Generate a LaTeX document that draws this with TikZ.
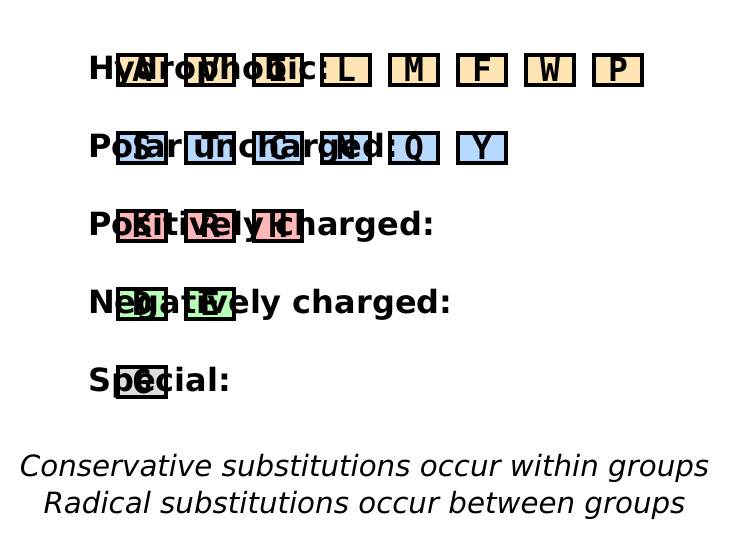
\documentclass[tikz,border=0pt]{standalone}
\usepackage{fontspec}
\setmainfont{DejaVu Sans}
\newfontfamily\monofont{DejaVu Sans Mono}
\definecolor{hydro}{RGB}{255,229,180}
\definecolor{polar}{RGB}{183,216,255}
\definecolor{posc}{RGB}{255,182,182}
\definecolor{negc}{RGB}{183,255,183}
\definecolor{spec}{RGB}{221,221,221}
\tikzset{
  aabox/.style={draw=black, line width=4pt, minimum width=48pt, minimum height=30pt, inner sep=0pt},
  aaletter/.style={font=\monofont\bfseries\fontsize{33}{33}\selectfont, inner sep=0pt, anchor=base},
  grouplabel/.style={font=\bfseries\fontsize{32}{32}\selectfont, inner sep=0pt, anchor=base west},
  note/.style={font=\itshape\fontsize{29.3}{29.3}\selectfont, inner sep=0pt, anchor=base}
}
\begin{document}
\begin{tikzpicture}[x=1pt,y=-1pt]
\useasboundingbox (0,0) rectangle (729,556);
% rows: baseline y
\def\rowA{79.5}\def\rowB{157.5}\def\rowC{235.5}\def\rowD{313.5}\def\rowE{391.5}
% boxes
\foreach \L [count=\i] in {A,V,I,L,M,F,W,P} {
  \node[aabox, fill=hydro] (h\i) at ({142+68*(\i-1)}, \rowA-9.5) {};
}
\foreach \L [count=\i] in {S,T,C,N,Q,Y} {
  \node[aabox, fill=polar] (p\i) at ({142+68*(\i-1)}, \rowB-9.5) {};
}
\foreach \L [count=\i] in {K,R,H} {
  \node[aabox, fill=posc] (k\i) at ({142+68*(\i-1)}, \rowC-9.5) {};
}
\foreach \L [count=\i] in {D,E} {
  \node[aabox, fill=negc] (n\i) at ({142+68*(\i-1)}, \rowD-9.5) {};
}
\node[aabox, fill=spec] (s1) at (142, \rowE-9.5) {};
% labels
\node[grouplabel] (lh) at (88,\rowA) {Hydrophobic:};
\node[grouplabel] (lp) at (88,\rowB) {Polar uncharged:};
\node[grouplabel] (lk) at (88,\rowC) {Positively charged:};
\node[grouplabel] (ln) at (88,\rowD) {Negatively charged:};
\node[grouplabel] (ls) at (88,\rowE) {Special:};
% letters
\foreach \L [count=\i] in {A,V,I,L,M,F,W,P} {
  \node[aaletter] (th\i) at ({142+68*(\i-1)}, \rowA+2.2) {\L};
}
\foreach \L [count=\i] in {S,T,C,N,Q,Y} {
  \node[aaletter] (tp\i) at ({142+68*(\i-1)}, \rowB+2.2) {\L};
}
\foreach \L [count=\i] in {K,R,H} {
  \node[aaletter] (tk\i) at ({142+68*(\i-1)}, \rowC+2.2) {\L};
}
\foreach \L [count=\i] in {D,E} {
  \node[aaletter] (tn\i) at ({142+68*(\i-1)}, \rowD+2.2) {\L};
}
\node[aaletter] (ts1) at (142, \rowE+2.2) {G};
% notes
\node[note] (c1) at (364.5,476) {Conservative substitutions occur within groups};
\node[note] (c2) at (364.5,513) {Radical substitutions occur between groups};
\end{tikzpicture}
\end{document}
